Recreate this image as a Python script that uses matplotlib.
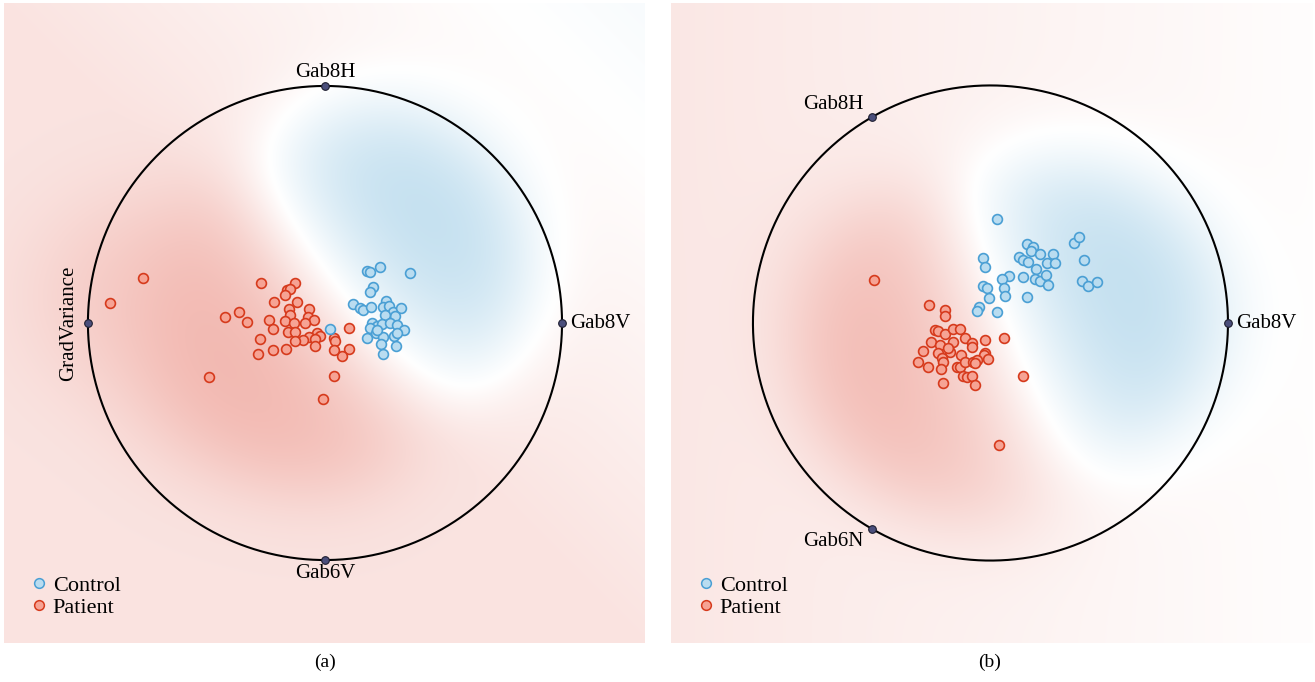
import numpy as np
import matplotlib.pyplot as plt
from matplotlib.lines import Line2D

# ---- panel (a): anchors Gab8V, Gab8H, GradVariance, Gab6V ----
a_anchor_names = ["Gab8V", "Gab8H", "GradVariance", "Gab6V"]
a_anchor_angles = [0, 90, 180, 270]

a_control_x = [0.232, 0.176, 0.190, 0.359, 0.201, 0.190, 0.119, 0.148, 0.159, 0.193,
               0.257, 0.246, 0.271, 0.288, 0.319, 0.295, 0.253, 0.197, 0.218, 0.190,
               0.239, 0.274, 0.305, 0.335, 0.176, 0.214, 0.246, 0.291, 0.303, 0.235,
               0.300, 0.246, 0.218, 0.021]
a_control_y = [0.238, 0.221, 0.215, 0.210, 0.153, 0.130, 0.079, 0.062, 0.055, 0.066,
               0.094, 0.069, 0.072, 0.048, 0.065, 0.030, 0.034, -0.001, -0.013, -0.022,
               -0.004, -0.001, -0.008, -0.030, -0.065, -0.043, -0.060, -0.055, -0.041, -0.090,
               -0.096, -0.131, -0.030, -0.027]

a_patient_x = [-0.271, -0.127, -0.162, -0.148, -0.169, -0.215, -0.119, -0.422, -0.364, -0.330,
               -0.236, -0.218, -0.153, -0.148, -0.169, -0.131, -0.069, -0.070, -0.046, -0.084,
               -0.155, -0.127, -0.035, -0.021, -0.066, -0.042, -0.094, -0.127, 0.039, 0.042,
               0.103, 0.103, 0.070, 0.039, -0.042, -0.274, -0.281, -0.221, -0.166, -0.488,
               0.038, -0.007, -0.768, -0.907]
a_patient_y = [0.168, 0.168, 0.139, 0.143, 0.118, 0.089, 0.089, 0.025, 0.046, 0.004,
               0.013, -0.024, 0.059, 0.034, 0.008, 0.001, 0.060, 0.027, 0.013, 0.000,
               -0.037, -0.037, -0.041, -0.055, -0.060, -0.069, -0.072, -0.075, -0.062, -0.075,
               -0.021, -0.108, -0.138, -0.114, -0.097, -0.069, -0.132, -0.115, -0.111, -0.228,
               -0.222, -0.322, 0.190, 0.084]

# ---- panel (b): anchors Gab8V, Gab8H, Gab6N ----
b_anchor_names = ["Gab8V", "Gab8H", "Gab6N"]
b_anchor_angles = [0, 120, 240]

b_control_x = [0.029, 0.152, 0.178, 0.171, 0.208, 0.262, 0.353, 0.371, 0.395, -0.030,
               -0.023, 0.121, 0.138, 0.159, 0.237, 0.272, 0.192, 0.079, 0.050, 0.138,
               0.187, 0.208, 0.234, 0.241, 0.384, 0.412, 0.447, -0.030, -0.013, 0.057,
               -0.005, 0.061, 0.155, -0.047, -0.058, 0.029]
b_control_y = [0.437, 0.331, 0.321, 0.304, 0.291, 0.291, 0.336, 0.361, 0.264, 0.272,
               0.236, 0.277, 0.265, 0.258, 0.251, 0.254, 0.229, 0.199, 0.185, 0.195,
               0.185, 0.178, 0.202, 0.160, 0.176, 0.157, 0.173, 0.156, 0.149, 0.149,
               0.104, 0.114, 0.108, 0.066, 0.052, 0.048]

b_patient_x = [-0.491, -0.260, -0.193, -0.190, -0.234, -0.220, -0.192, -0.159, -0.128, -0.107,
               -0.023, 0.057, -0.252, -0.213, -0.157, -0.079, -0.077, -0.285, -0.220, -0.171,
               -0.124, -0.023, -0.026, -0.009, -0.304, -0.262, -0.205, -0.199, -0.210, -0.142,
               -0.128, -0.107, -0.075, -0.056, -0.065, -0.117, -0.100, -0.079, -0.065, -0.199,
               0.136, 0.037, -0.178]
b_patient_y = [0.181, 0.077, 0.053, 0.031, -0.029, -0.032, -0.046, -0.027, -0.025, -0.062,
               -0.072, -0.064, -0.079, -0.093, -0.079, -0.083, -0.100, -0.117, -0.128, -0.121,
               -0.135, -0.125, -0.135, -0.153, -0.163, -0.184, -0.149, -0.163, -0.194, -0.187,
               -0.184, -0.163, -0.163, -0.156, -0.167, -0.223, -0.229, -0.223, -0.261, -0.251,
               -0.223, -0.514, -0.107]

BLUE_EDGE = "#4a9fd4"
BLUE_FACE = "#b9dcf0"
RED_EDGE = "#d63a1c"
RED_FACE = "#f6a394"
FONT = "Liberation Serif"


def background(ax, cx, cy, px, py, xlim, ylim, prior, shift, h=0.26, eps=3.0):
    # kernel class-probability map; the class model lives in the full feature space,
    # so the blue kernel is displaced a little from the projected control points
    xs = np.linspace(xlim[0], xlim[1], 320)
    ys = np.linspace(ylim[0], ylim[1], 320)
    X, Y = np.meshgrid(xs, ys)
    kb = np.zeros_like(X)
    kr = np.zeros_like(X)
    for x, y in zip(cx, cy):
        kb += np.exp(-((X - x - shift[0]) ** 2 + (Y - y - shift[1]) ** 2) / (2 * h * h))
    for x, y in zip(px, py):
        kr += np.exp(-((X - x) ** 2 + (Y - y) ** 2) / (2 * h * h))
    p0 = np.clip(prior(X, Y), 0.33, 0.55)
    p = (kb + eps * p0) / (kb + kr + eps)
    s = np.clip(0.85 * np.abs(2 * p - 1), 0, 1)
    blue = np.array([165, 208, 232]) / 255
    red = np.array([238, 160, 150]) / 255
    col = np.where((p > 0.5)[..., None], blue, red)
    rgb = 1 - s[..., None] * (1 - col)
    ax.imshow(rgb, origin="lower", extent=[xlim[0], xlim[1], ylim[0], ylim[1]],
              aspect="auto", interpolation="bilinear", zorder=0)


def draw_panel(ax, cx, cy, px, py, names, angles, xlim, ylim, label_pos, prior, shift):
    background(ax, cx, cy, px, py, xlim, ylim, prior, shift)
    t = np.linspace(0, 2 * np.pi, 400)
    ax.plot(np.cos(t), np.sin(t), color="black", lw=1.5, zorder=2)
    for name, ang in zip(names, angles):
        x, y = np.cos(np.radians(ang)), np.sin(np.radians(ang))
        ax.plot(x, y, "o", ms=5.5, mfc="#4b4f7c", mec="#1e1e30", mew=0.8, zorder=4)
        off, ha, va, rot = label_pos[name]
        ax.annotate(name, (x, y), xytext=off, textcoords="offset points",
                    ha=ha, va=va, rotation=rot, fontsize=15, family=FONT, zorder=5)
    ax.scatter(px, py, s=50, facecolor=RED_FACE, edgecolor=RED_EDGE, linewidth=1.2, zorder=3)
    ax.scatter(cx, cy, s=50, facecolor=BLUE_FACE, edgecolor=BLUE_EDGE, linewidth=1.2, zorder=3)
    handles = [
        Line2D([], [], ls="", marker="o", ms=7, mfc=BLUE_FACE, mec=BLUE_EDGE, mew=1.1, label="Control"),
        Line2D([], [], ls="", marker="o", ms=7, mfc=RED_FACE, mec=RED_EDGE, mew=1.1, label="Patient"),
    ]
    ax.legend(handles=handles, loc="lower left", bbox_to_anchor=(0.017, 0.022), frameon=False,
              prop={"family": FONT, "size": 16}, handletextpad=0.0, labelspacing=0.05,
              borderpad=0, handlelength=1.2)
    ax.set_xlim(xlim)
    ax.set_ylim(ylim)
    ax.axis("off")


fig = plt.figure(figsize=(13.15, 6.82), dpi=100)
W, H = 1315, 682

ax1 = fig.add_axes([4 / W, (H - 643) / H, 641 / W, 640 / H])
draw_panel(ax1, a_control_x, a_control_y, a_patient_x, a_patient_y,
           a_anchor_names, a_anchor_angles, (-1.354, 1.350), (-1.350, 1.350),
           {"Gab8V": ((6, 0), "left", "center", 0),
            "Gab8H": ((0, 3), "center", "bottom", 0),
            "Gab6V": ((0, -3), "center", "top", 0),
            "GradVariance": ((-7, 0), "right", "center", 90)},
           lambda X, Y: 0.33 + 0.08 * (X + Y), (-0.01, 0.22))

ax2 = fig.add_axes([671 / W, (H - 643) / H, 642 / W, 640 / H])
draw_panel(ax2, b_control_x, b_control_y, b_patient_x, b_patient_y,
           b_anchor_names, b_anchor_angles, (-1.345, 1.358), (-1.347, 1.347),
           {"Gab8V": ((6, 0), "left", "center", 0),
            "Gab8H": ((-6, 2), "right", "bottom", 0),
            "Gab6N": ((-6, -2), "right", "top", 0)},
           lambda X, Y: 0.42 + 0.05 * X, (0.1, -0.2))

fig.text(325 / W, 1 - 662 / H, "(a)", ha="center", va="center", fontsize=14, family=FONT)
fig.text(990 / W, 1 - 662 / H, "(b)", ha="center", va="center", fontsize=14, family=FONT)

fig.savefig("out.png", dpi=100)
